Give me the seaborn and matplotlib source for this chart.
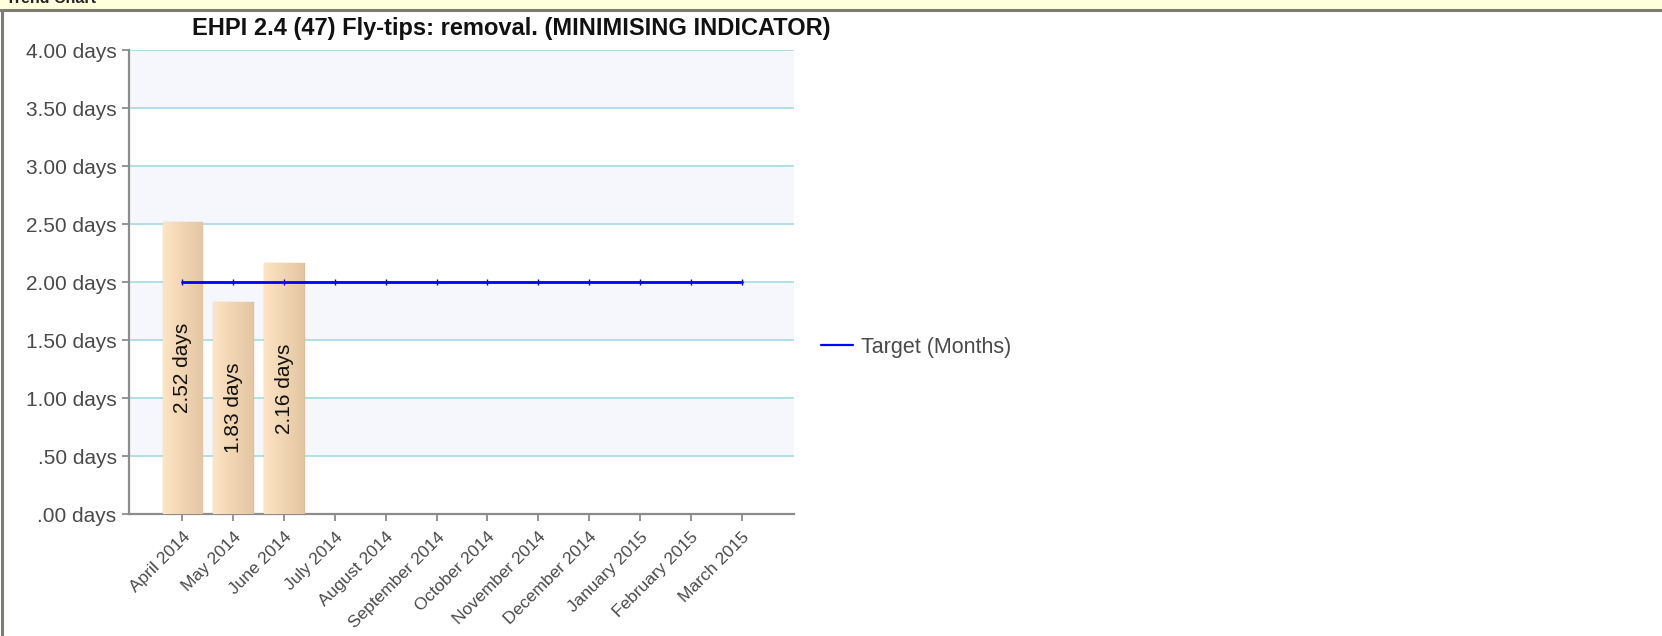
import numpy as np
import pandas as pd
import matplotlib
matplotlib.use("Agg")
import matplotlib.pyplot as plt
import seaborn as sns
from matplotlib.colors import LinearSegmentedColormap

# ==============================================================
# DATA
# ==============================================================

months = ["April 2014", "May 2014", "June 2014", "July 2014", "August 2014",
          "September 2014", "October 2014", "November 2014", "December 2014",
          "January 2015", "February 2015", "March 2015"]

bar_months = ["April 2014", "May 2014", "June 2014"]
bar_values = [2.52, 1.83, 2.16]
bar_labels = ["2.52 days", "1.83 days", "2.16 days"]

target = [2.0] * 12

y_ticks = [0.0, 0.5, 1.0, 1.5, 2.0, 2.5, 3.0, 3.5, 4.0]
y_ticklabels = [".00 days", ".50 days", "1.00 days", "1.50 days", "2.00 days",
                "2.50 days", "3.00 days", "3.50 days", "4.00 days"]

title = "EHPI 2.4 (47) Fly-tips: removal. (MINIMISING INDICATOR)"

# ==============================================================
# PLOT
# ==============================================================

sns.set_style("white")
plt.rcParams["font.family"] = ["Liberation Sans", "DejaVu Sans"]

fig = plt.figure(figsize=(16.62, 6.36), dpi=100)
fig.patch.set_facecolor("white")

# panel frame: yellow header strip, grey rule, grey left border
fig.patches.append(plt.Rectangle((0, 1 - 9 / 636), 1, 9 / 636, transform=fig.transFigure,
                                 facecolor="#ffffdc", edgecolor="none", zorder=0))
fig.add_artist(plt.Line2D([0, 1], [1 - 9.5 / 636] * 2, transform=fig.transFigure,
                          color="#7d7d72", lw=2.2))
fig.add_artist(plt.Line2D([2 / 1662] * 2, [0, 1 - 9.5 / 636], transform=fig.transFigure,
                          color="#7d7d72", lw=2.2))
fig.text(6 / 1662, 1 - 3 / 636, "Trend Chart", fontsize=11.5, fontweight="bold",
         ha="left", va="baseline", color="#222222", zorder=5)

ax = fig.add_axes([129 / 1662, 1 - 514 / 636, 665 / 1662, 464 / 636])

df = pd.DataFrame({"month": bar_months, "value": bar_values})
sns.barplot(data=df, x="month", y="value", order=months, errorbar=None,
            width=0.78, color="#f6d9b4", edgecolor="#dcbf9c", linewidth=1.0,
            ax=ax, zorder=3)

# gradient fill on the bars
cmap = LinearSegmentedColormap.from_list("peach", ["#fde4c3", "#e4c6a2"])
grad = np.linspace(0, 1, 64).reshape(1, -1)
for patch in ax.patches:
    h = patch.get_height()
    if np.isnan(h) or h == 0:
        continue
    x0 = patch.get_x()
    w = patch.get_width()
    im = ax.imshow(grad, extent=[x0, x0 + w, 0, h], aspect="auto", cmap=cmap,
                   zorder=3.5, interpolation="bicubic")
    im.set_clip_path(patch)
ax.set_xlim(-1.05, 11.0 + 1.03)
ax.set_ylim(0, 4)

ax.bar_label(ax.containers[0], labels=bar_labels, label_type="center",
             rotation=90, fontsize=15, color="#111111", zorder=5)

# alternating background bands and grid lines
for lo in [0.5, 1.5, 2.5, 3.5]:
    ax.axhspan(lo, lo + 0.5, facecolor="#f5f7fd", edgecolor="none", zorder=0)
for yv in y_ticks[1:]:
    ax.axhline(yv, color="#a9dde6", lw=1.3, zorder=1)

# target line
sns.lineplot(x=np.arange(len(months)), y=target, color="#0000ff", lw=2.0,
             marker="|", markersize=5, markeredgewidth=1, markeredgecolor="#0000ff",
             sort=False, label="Target (Months)", ax=ax, zorder=4)

ax.set_yticks(y_ticks)
ax.set_yticklabels(y_ticklabels, fontsize=15, color="#4a4a4a")
ax.set_xticks(np.arange(len(months)))
ax.set_xticklabels(months, rotation=45, ha="right", va="top",
                   rotation_mode="anchor", fontsize=12.5, color="#4a4a4a")
ax.set_xlabel("")
ax.set_ylabel("")

for side in ["top", "right"]:
    ax.spines[side].set_visible(False)
for side in ["left", "bottom"]:
    ax.spines[side].set_color("#8c8c8c")
    ax.spines[side].set_linewidth(1.6)
ax.tick_params(axis="both", which="major", direction="out", length=5, width=1.3,
               color="#8c8c8c", left=True, bottom=True, pad=4)
ax.tick_params(axis="x", pad=6)

leg = ax.legend(loc="center left", bbox_to_anchor=(821 / 1662, 1 - 347 / 636),
                bbox_transform=fig.transFigure, frameon=False, borderpad=0,
                borderaxespad=0, fontsize=15.5, handlelength=1.5,
                handletextpad=0.35, labelcolor="#4a4a4a")
leg.legend_handles[0].set_marker("")
leg.legend_handles[0].set_linewidth(1.6)

fig.text(511 / 1662, 1 - 28 / 636, title, fontsize=17, fontweight="bold",
         ha="center", va="center", color="#111111")

plt.savefig("out.png", dpi=100)
